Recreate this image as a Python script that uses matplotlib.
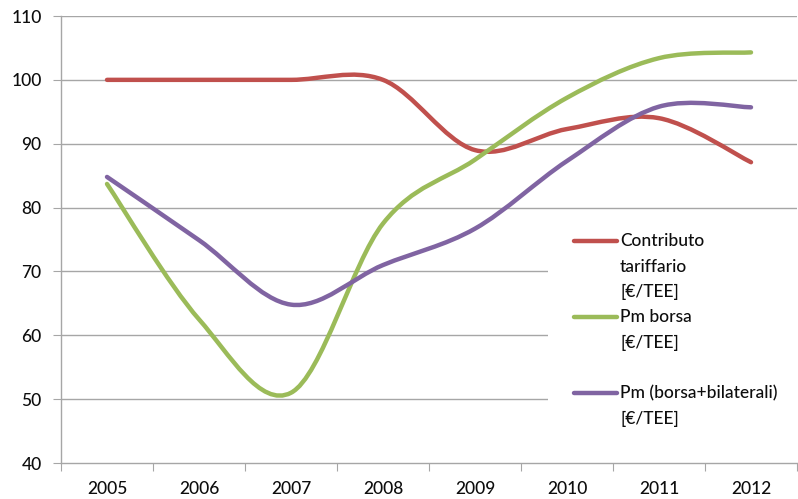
import matplotlib
matplotlib.use("Agg")
import matplotlib.pyplot as plt
from matplotlib.path import Path
from matplotlib.patches import PathPatch, Rectangle
from matplotlib.lines import Line2D

years = ["2005", "2006", "2007", "2008", "2009", "2010", "2011", "2012"]
contributo = [100, 100, 100, 100, 89, 92.3, 94, 87.1]
pm_borsa = [83.7, 62.5, 51, 77.5, 87.5, 97.2, 103.4, 104.3]
pm_bil = [84.8, 74.9, 64.8, 71, 76.7, 87.3, 95.8, 95.7]
labels = [["Contributo", "tariffario", "[€/TEE]"],
          ["Pm borsa", "[€/TEE]"],
          ["Pm (borsa+bilaterali)", "[€/TEE]"]]
colors = ["#C0504D", "#9BBB59", "#8064A2"]

plt.rcParams['font.family'] = ['Lato', 'DejaVu Sans']
plt.rcParams['font.weight'] = 'medium'

W, H = 798, 499
fig = plt.figure(figsize=(W / 100, H / 100), dpi=100)
L, R, T, B = 61, 797, 16, 463
ax = fig.add_axes([L / W, 1 - B / H, (R - L) / W, (B - T) / H])

grid_c = "#A6A6A6"
txt_c = "#0d0d0d"
ax.set_xlim(-0.5, len(years) - 0.5)
ax.set_ylim(40, 110)
ax.set_yticks(range(40, 111, 10))
for y in range(50, 111, 10):
    ax.axhline(y, color=grid_c, lw=1.0, zorder=1)

ax.set_xticks([i - 0.5 for i in range(len(years) + 1)])
ax.set_xticklabels([])
ax.set_xticks(range(len(years)), minor=True)
ax.set_xticklabels(years, minor=True)
ax.tick_params(axis="x", which="major", length=6, color=grid_c, direction="out")
ax.tick_params(axis="x", which="minor", length=0, pad=13, labelsize=12.5, labelcolor=txt_c)
ax.tick_params(axis="y", length=6, color=grid_c, direction="out", pad=8, labelsize=12.5, labelcolor=txt_c)
for s in ["top", "right"]:
    ax.spines[s].set_visible(False)
for s in ["left", "bottom"]:
    ax.spines[s].set_color(grid_c)
    ax.spines[s].set_linewidth(1.0)


def smooth_path(vals):
    n = len(vals)
    pts = [(float(i), float(v)) for i, v in enumerate(vals)]
    verts = [pts[0]]
    codes = [Path.MOVETO]
    for i in range(n - 1):
        p0 = pts[max(i - 1, 0)]
        p1 = pts[i]
        p2 = pts[i + 1]
        p3 = pts[min(i + 2, n - 1)]
        c1 = (p1[0] + (p2[0] - p0[0]) / 6, p1[1] + (p2[1] - p0[1]) / 6)
        c2 = (p2[0] - (p3[0] - p1[0]) / 6, p2[1] - (p3[1] - p1[1]) / 6)
        verts += [c1, c2, p2]
        codes += [Path.CURVE4] * 3
    return Path(verts, codes)


for vals, c in zip([contributo, pm_borsa, pm_bil], colors):
    patch = PathPatch(smooth_path(vals), facecolor="none", edgecolor=c, lw=3.2,
                      capstyle="round", joinstyle="round", zorder=3)
    ax.add_patch(patch)


def fx(px):
    return px / W


def fy(py):
    return 1 - py / H


# legend box
fig.patches.append(Rectangle((fx(548), fy(440)), fx(797) - fx(548), fy(225) - fy(440),
                             transform=fig.transFigure, facecolor="white", edgecolor="none",
                             zorder=2))
entry_y = [241, 317, 393]
line_gap = 25.5
for lab, c, ey in zip(labels, colors, entry_y):
    fig.lines.append(Line2D([fx(574), fx(617)], [fy(ey), fy(ey)], transform=fig.transFigure,
                            color=c, lw=3.2, solid_capstyle="round", zorder=3))
    for k, t in enumerate(lab):
        fig.text(fx(620), fy(ey + k * line_gap), t, ha="left", va="center",
                 fontsize=12.5, color=txt_c, zorder=4)

fig.savefig("out.png", dpi=100)
